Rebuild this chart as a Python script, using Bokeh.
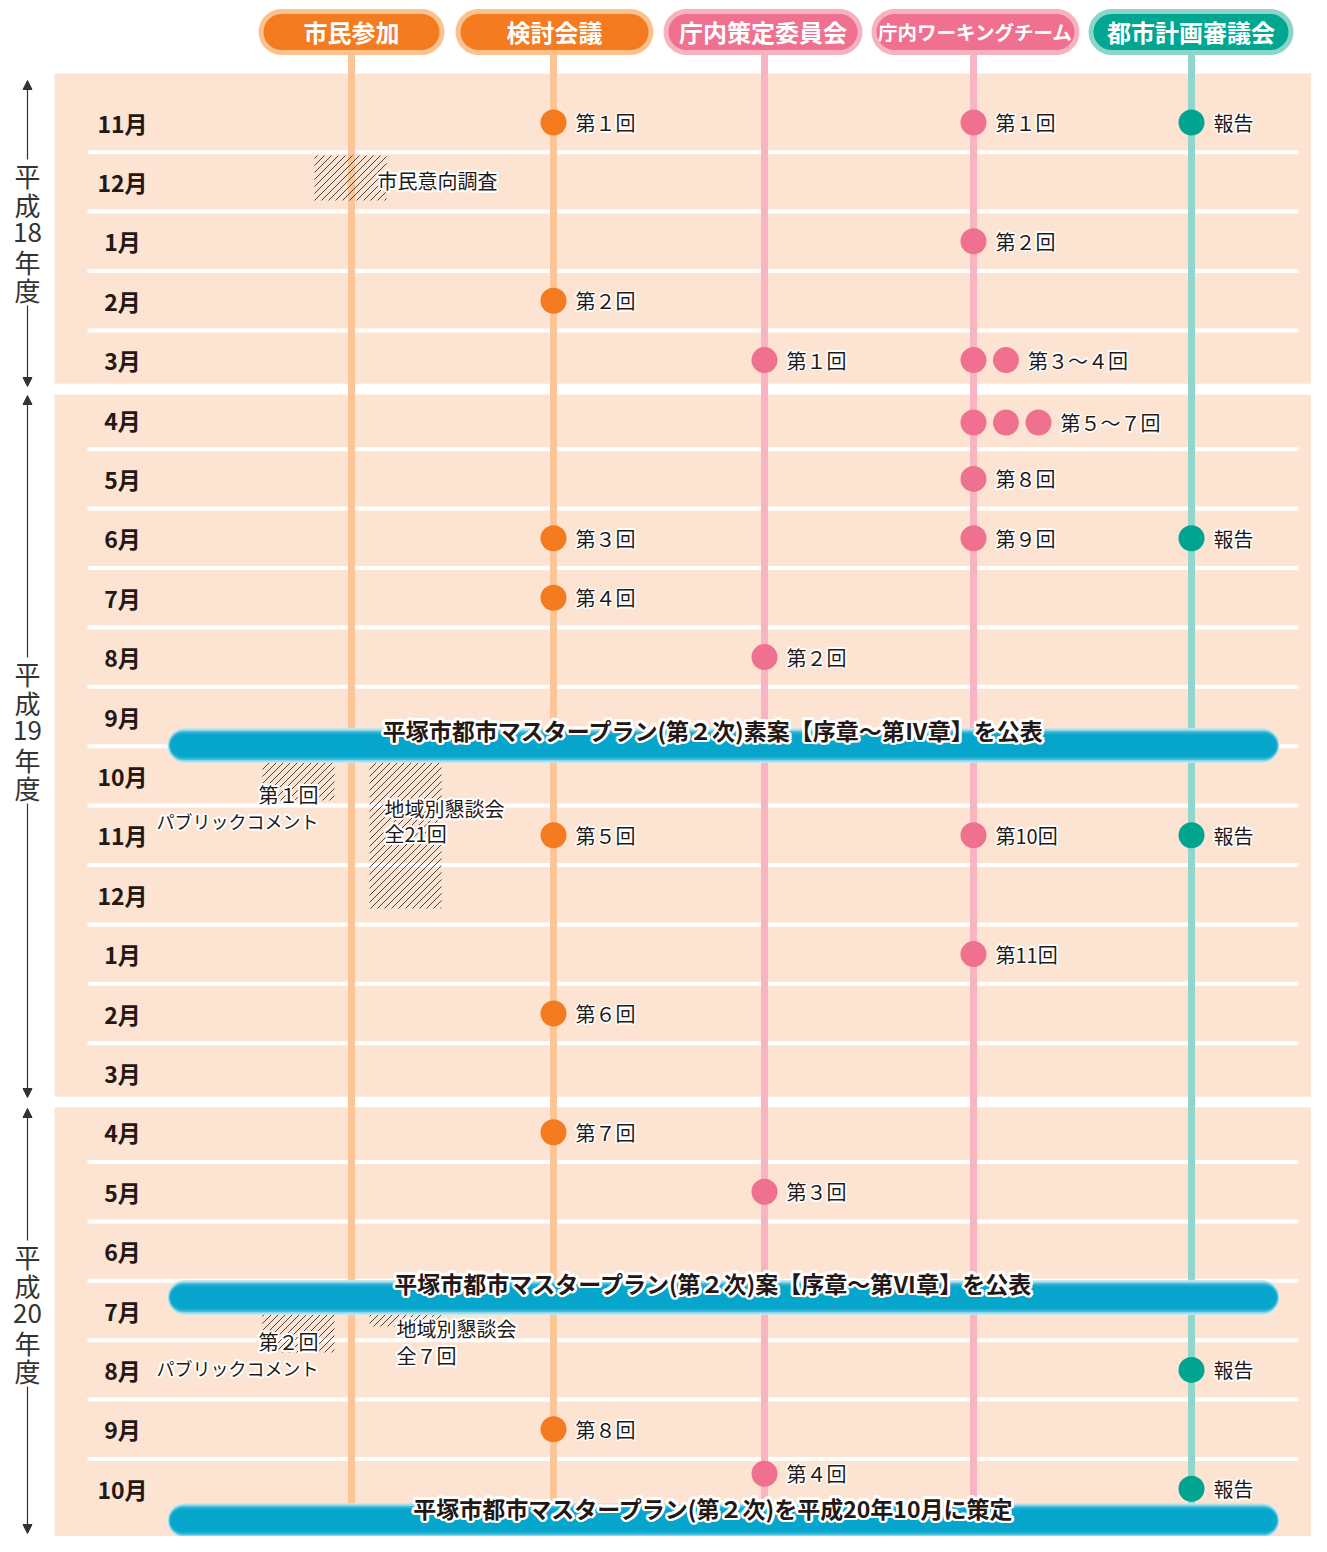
import math
from bokeh.plotting import figure
from bokeh.models import Range1d, Arrow, NormalHead, ColumnDataSource
from bokeh.core.properties import value
from bokeh.embed import file_html
from bokeh.resources import INLINE

# ------------------------------------------------------------------ data
columns = ["市民参加", "検討会議", "庁内策定委員会", "庁内ワーキングチーム", "都市計画審議会"]
fiscal_years = ["平成18年度", "平成19年度", "平成20年度"]
year_label_lines = [["平", "成", "18", "年", "度"],
                    ["平", "成", "19", "年", "度"],
                    ["平", "成", "20", "年", "度"]]
months_h18 = ["11月", "12月", "1月", "2月", "3月"]
months_h19 = ["4月", "5月", "6月", "7月", "8月", "9月", "10月", "11月", "12月", "1月", "2月", "3月"]
months_h20 = ["4月", "5月", "6月", "7月", "8月", "9月", "10月"]

# (fiscal year, month, label, number of meetings)
kentou_events = [("平成18年度", "11月", "第１回", 1), ("平成18年度", "2月", "第２回", 1),
                 ("平成19年度", "6月", "第３回", 1), ("平成19年度", "7月", "第４回", 1),
                 ("平成19年度", "11月", "第５回", 1), ("平成19年度", "2月", "第６回", 1),
                 ("平成20年度", "4月", "第７回", 1), ("平成20年度", "9月", "第８回", 1)]
sakutei_events = [("平成18年度", "3月", "第１回", 1), ("平成19年度", "8月", "第２回", 1),
                  ("平成20年度", "5月", "第３回", 1), ("平成20年度", "10月", "第４回", 1)]
wt_events = [("平成18年度", "11月", "第１回", 1), ("平成18年度", "1月", "第２回", 1),
             ("平成18年度", "3月", "第３～４回", 2), ("平成19年度", "4月", "第５～７回", 3),
             ("平成19年度", "5月", "第８回", 1), ("平成19年度", "6月", "第９回", 1),
             ("平成19年度", "11月", "第10回", 1), ("平成19年度", "1月", "第11回", 1)]
shingikai_events = [("平成18年度", "11月", "報告", 1), ("平成19年度", "6月", "報告", 1),
                    ("平成19年度", "11月", "報告", 1), ("平成20年度", "8月", "報告", 1),
                    ("平成20年度", "10月", "報告", 1)]

# citizen participation periods (label lines)
civic_labels = [["市民意向調査"],
                ["第１回", "パブリックコメント"],
                ["地域別懇談会", "全21回"],
                ["第２回", "パブリックコメント"],
                ["地域別懇談会", "全７回"]]

banner_texts = ["平塚市都市マスタープラン(第２次)素案【序章～第Ⅳ章】を公表",
                "平塚市都市マスタープラン(第２次)案【序章～第Ⅵ章】を公表",
                "平塚市都市マスタープラン(第２次)を平成20年10月に策定"]

# ------------------------------------------------------------------ layout / style
FONT = value("Noto Sans CJK JP")
DARK = "#231815"
PEACH = "#FDE4D2"
ROW0_PX, ROW_PX = 122.0, 59.4


def ry(px):
    return (px - ROW0_PX) / ROW_PX


COL_X = [351, 553, 764, 973, 1191]
LINE_COLORS = ["#FCC597", "#FCC597", "#F8B4C3", "#F8B4C3", "#92D5CC"]
DOT_COLORS = ["#F47B20", "#F47B20", "#F07090", "#F07090", "#00A48F"]
PILL_FILL = ["#F47B20", "#F47B20", "#F07090", "#F07090", "#00A690"]
PILL_EDGE = ["#FBC18F", "#FBC18F", "#F7B1C1", "#F7B1C1", "#8DD5CB"]
PILL_CX = [351, 554, 762.5, 975, 1190.5]
PILL_W = [186, 198, 199, 208, 205]
PILL_FONT = ["24px", "24px", "24px", "19.5px", "24px"]
DOT_NUDGE_PX = {(2, "第４回"): -15, (3, "第５～７回"): 3}

HATCH_BOX = [(314, 386, 155, 200), (262, 334, 752, 800), (369, 441, 752, 908),
             (262, 334, 1306, 1352), (369, 441, 1306, 1326)]
CIVIC_TEXT_POS = [[(377, 180, "left", "20px")],
                  [(318, 794, "right", "20px"), (318, 820, "right", "18px")],
                  [(384, 808, "left", "20px"), (384, 833, "left", "20px")],
                  [(318, 1341, "right", "20px"), (318, 1367, "right", "18px")],
                  [(396, 1328, "left", "20px"), (396, 1355, "left", "20px")]]
BANNER_Y = [745, 1297, 1520]
BANNER_TEXT_Y = [729, 1282, 1507]
YEAR_CENTER_PX = [232, 730, 1313]
YEAR_TIPS_PX = [(80, 386), (395, 1097), (1108, 1533)]

# ------------------------------------------------------------------ rows
month_lists = [months_h18, months_h19, months_h20]
rows = [(fy, m) for fy, ms in zip(fiscal_years, month_lists) for m in ms]
row_of = {key: i for i, key in enumerate(rows)}
band_first, band_last = [], []
for fy, ms in zip(fiscal_years, month_lists):
    band_first.append(row_of[(fy, ms[0])])
    band_last.append(row_of[(fy, ms[-1])])

p = figure(width=1311, height=1536, x_range=Range1d(0, 1311),
           y_range=Range1d(ry(1536), ry(0)), x_axis_type=None, y_axis_type=None,
           toolbar_location=None, output_backend="svg", min_border=0,
           outline_line_color=None, background_fill_color="white",
           border_fill_color="white")
p.grid.visible = False


def pill_shape(cx, cy_px, w, h, n=18):
    r = h / 2.0
    xs, ys = [], []
    for k in range(n + 1):
        a = math.pi / 2 - math.pi * k / n
        xs.append(cx + w / 2 - r + r * math.cos(a))
        ys.append(ry(cy_px - r * math.sin(a)))
    for k in range(n + 1):
        a = -math.pi / 2 - math.pi * k / n
        xs.append(cx - w / 2 + r + r * math.cos(a))
        ys.append(ry(cy_px - r * math.sin(a)))
    return xs, ys


def halo_text(xs, ys, texts, size, align="left", bold=False, halo=2.0, color=DARK):
    n = len(xs)
    src = ColumnDataSource(dict(x=xs, y=ys, text=texts,
                                align=align if isinstance(align, list) else [align] * n,
                                size=size if isinstance(size, list) else [size] * n))
    style = "bold" if bold else "normal"
    if halo > 0:
        for k in range(12):
            a = 2 * math.pi * k / 12
            p.text(x="x", y="y", text="text", source=src, text_font=FONT,
                   text_font_size="size", text_font_style=style, text_align="align",
                   text_baseline="middle", text_color="white",
                   x_offset=halo * math.cos(a), y_offset=halo * math.sin(a))
    p.text(x="x", y="y", text="text", source=src, text_font=FONT, text_font_size="size",
           text_font_style=style, text_align="align", text_baseline="middle",
           text_color=color)


# background bands
tops, bottoms = [], []
for i, (f, l) in enumerate(zip(band_first, band_last)):
    tops.append(ry(73) if i == 0 else f - 0.42)
    bottoms.append(l + 0.40 if i < len(band_first) - 1 else ry(1570))
p.quad(left=54, right=1330, top=tops, bottom=bottoms, fill_color=PEACH, line_color=None)

# separators between months
sep_y = [r + 0.5 for f, l in zip(band_first, band_last) for r in range(f, l)]
p.segment(x0=87, x1=1298, y0=sep_y, y1=sep_y, line_color="white", line_width=4)

# column lines
p.segment(x0=COL_X, x1=COL_X, y0=ry(50), y1=ry(1515), line_color=LINE_COLORS, line_width=7)

# month labels
p.text(x=[122] * len(rows), y=list(range(len(rows))), text=[m for _, m in rows],
       text_font=FONT, text_font_size="23px", text_font_style="bold",
       text_align="center", text_baseline="middle", text_color=DARK)

# hatched periods (diagonal lines clipped to each box)
hx0, hx1, hy0, hy1 = [], [], [], []
for (bx0, bx1, by0, by1) in HATCH_BOX:
    k = bx0 + by0 + 3
    while k < bx1 + by1:
        xa, xb = max(bx0, k - by1), min(bx1, k - by0)
        if xb > xa:
            hx0.append(xa); hy0.append(ry(k - xa)); hx1.append(xb); hy1.append(ry(k - xb))
        k += 7
p.segment(x0=hx0, y0=hy0, x1=hx1, y1=hy1, line_color="#333333", line_width=0.9)

cx_, cy_, ct_, ca_, cs_ = [], [], [], [], []
for lines, pos in zip(civic_labels, CIVIC_TEXT_POS):
    for t, (x, y, al, sz) in zip(lines, pos):
        cx_.append(x); cy_.append(ry(y)); ct_.append(t); ca_.append(al); cs_.append(sz)
halo_text(cx_, cy_, ct_, cs_, align=ca_, halo=2.0)

# meeting dots
all_events = [None, kentou_events, sakutei_events, wt_events, shingikai_events]
for c, evs in enumerate(all_events):
    if not evs:
        continue
    dx, dy, lx, ly, lt = [], [], [], [], []
    for fy, m, lab, n in evs:
        r = row_of[(fy, m)] + DOT_NUDGE_PX.get((c, lab), 0) / ROW_PX
        for k in range(n):
            dx.append(COL_X[c] + 32.5 * k); dy.append(r)
        lx.append(COL_X[c] + 32.5 * (n - 1) + 22); ly.append(r); lt.append(lab)
    p.scatter(x=dx, y=dy, size=26, marker="circle", fill_color=DOT_COLORS[c], line_color=None)
    halo_text(lx, ly, lt, "20px", halo=1.5)

# banners (soft-edged blue bars)
BX0, BX1 = 167, 1279
layers = [(35, "#c4e7ef", 0.9), (32, "#86d2e3", 0.9), (29, "#45bbd8", 0.9),
          (26, "#14aacf", 0.9), (22, "#04a5cb", 0.9)]
for yb in BANNER_Y:
    for h, col, al in layers:
        xs, ys = pill_shape((BX0 + BX1) / 2, yb, BX1 - BX0 - (35 - h) / 2, h)
        p.patch(xs, ys, fill_color=col, fill_alpha=al, line_color=None)
halo_text([713] * 3, [ry(y) for y in BANNER_TEXT_Y], banner_texts, "23px",
          align="center", bold=True, halo=2.8)

# header pills
for i, name in enumerate(columns):
    xs, ys = pill_shape(PILL_CX[i], 31.5, PILL_W[i], 46)
    p.patch(xs, ys, fill_color=PILL_EDGE[i], line_color=None)
    xs, ys = pill_shape(PILL_CX[i], 31.5, PILL_W[i] - 10, 36)
    p.patch(xs, ys, fill_color=PILL_FILL[i], line_color=None)
    p.text(x=[PILL_CX[i]], y=[ry(31)], text=[name], text_font=FONT,
           text_font_size=PILL_FONT[i], text_font_style="bold", text_align="center",
           text_baseline="middle", text_color="white")

# fiscal year labels with arrows
for lines, cpx, (t0, t1) in zip(year_label_lines, YEAR_CENTER_PX, YEAR_TIPS_PX):
    ys = [ry(cpx + (k - 2) * 28.5) for k in range(len(lines))]
    p.text(x=[27] * len(lines), y=ys, text=lines, text_font=FONT, text_font_size="26px",
           text_align="center", text_baseline="middle", text_color="#333333")
    for a, b in [(cpx - 73, t0), (cpx + 73, t1)]:
        p.add_layout(Arrow(end=NormalHead(size=9, fill_color="#333333", line_color="#333333"),
                           x_start=27, y_start=ry(a), x_end=27, y_end=ry(b),
                           line_color="#333333", line_width=1.2))

open("out.html", "w").write(file_html(p, INLINE))
